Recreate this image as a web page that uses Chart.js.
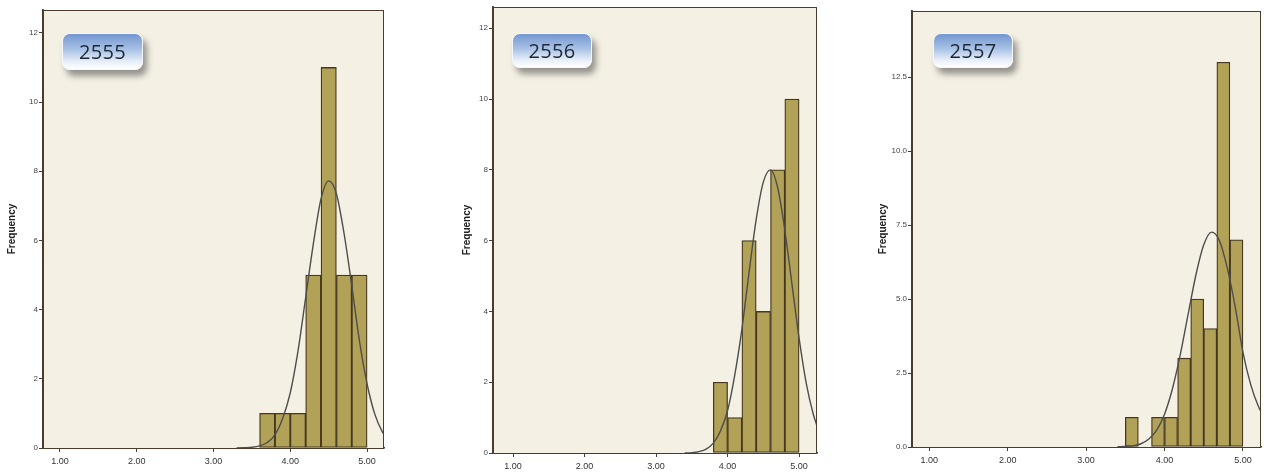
<!DOCTYPE html>
<html>
<head>
<meta charset="utf-8">
<script src="https://cdn.jsdelivr.net/npm/chart.js@4.4.1/dist/chart.umd.min.js"></script>
<style>
  html, body { margin:0; padding:0; background:#ffffff; }
  body { width:1264px; height:472px; position:relative; overflow:hidden; }
  canvas { position:absolute; top:0; }
  .tag {
    position:absolute; box-sizing:border-box;
    border:1px solid #f4f7fb; border-radius:8px;
    background:linear-gradient(to bottom, #7497d0 0%, #a9c2e6 45%, #e9f0f9 80%, #ffffff 100%);
    box-shadow:4px 6px 6px rgba(70,70,70,0.55);
    font-family:"Open Sans", "Noto Sans", sans-serif; font-size:20px; color:#1d2736;
    display:flex; align-items:center; justify-content:center; letter-spacing:0.3px;
  }
</style>
</head>
<body>
<canvas id="c2555" width="400" height="472" style="left:0px"></canvas>
<canvas id="c2556" width="400" height="472" style="left:440px"></canvas>
<canvas id="c2557" width="404" height="472" style="left:860px"></canvas>
<div class="tag" style="left:62px;top:33px;width:81px;height:37px;">2555</div>
<div class="tag" style="left:512px;top:33px;width:80px;height:35px;">2556</div>
<div class="tag" style="left:933px;top:33px;width:80px;height:35px;">2557</div>
<script>
// ---------- data ----------
const panelYears = ['2555', '2556', '2557'];

const xTickValues = [1, 2, 3, 4, 5];
const xTickLabels = ['1.00', '2.00', '3.00', '4.00', '5.00'];

const yTicks2555 = [0, 2, 4, 6, 8, 10, 12];
const yLabels2555 = ['0', '2', '4', '6', '8', '10', '12'];
const yTicks2556 = [0, 2, 4, 6, 8, 10, 12];
const yLabels2556 = ['0', '2', '4', '6', '8', '10', '12'];
const yTicks2557 = [0, 2.5, 5, 7.5, 10, 12.5];
const yLabels2557 = ['0.0', '2.5', '5.0', '7.5', '10.0', '12.5'];

// histogram bins (bin centres) and frequencies
const bins2555 = [3.7, 3.9, 4.1, 4.3, 4.5, 4.7, 4.9];
const freq2555 = [1, 1, 1, 5, 11, 5, 5];
const bins2556 = [3.9, 4.1, 4.3, 4.5, 4.7, 4.9];
const freq2556 = [2, 1, 6, 4, 8, 10];
const bins2557 = [3.583, 3.75, 3.917, 4.083, 4.25, 4.417, 4.583, 4.75, 4.917];
const freq2557 = [1, 0, 1, 1, 3, 5, 4, 13, 7];

// normal curve points
const curveX2555 = [3.3, 3.4, 3.5, 3.6, 3.7, 3.8, 3.9, 4.0, 4.1, 4.2, 4.3, 4.4, 4.5, 4.6, 4.7, 4.8, 4.9, 5.0, 5.1, 5.2, 5.22];
const curveY2555 = [0, 0.01, 0.02, 0.06, 0.16, 0.38, 0.85, 1.6, 2.8, 4.35, 5.9, 7.2, 7.72, 7.35, 6.2, 4.7, 3.1, 1.85, 0.98, 0.46, 0.4];
const curveX2556 = [3.4, 3.5, 3.6, 3.7, 3.8, 3.9, 4.0, 4.1, 4.2, 4.3, 4.4, 4.5, 4.6, 4.7, 4.8, 4.9, 5.0, 5.1, 5.2, 5.25];
const curveY2556 = [0, 0.01, 0.04, 0.11, 0.28, 0.62, 1.2, 2.2, 3.5, 5.1, 6.6, 7.66, 8.0, 7.5, 6.3, 4.77, 3.24, 1.97, 1.08, 0.77];
const curveX2557 = [3.4, 3.5, 3.6, 3.7, 3.8, 3.9, 4.0, 4.1, 4.2, 4.3, 4.4, 4.5, 4.6, 4.7, 4.8, 4.9, 5.0, 5.1, 5.2, 5.23];
const curveY2557 = [0.01, 0.02, 0.04, 0.11, 0.27, 0.57, 1.11, 1.96, 3.11, 4.47, 5.81, 6.83, 7.26, 6.97, 6.05, 4.75, 3.2, 2.1, 1.35, 1.2];

// ---------- styling / layout ----------
const plotBg = '#f4f0e3';
const frameColor = '#4a3d2e';
const barFill = '#b2a257';
const barEdge = '#463820';
const curveColor = '#4d4d4d';

const framePlugin = {
  id: 'frame',
  beforeDatasetsDraw(chart) {
    const { ctx, chartArea: a } = chart;
    ctx.save();
    ctx.fillStyle = plotBg;
    ctx.fillRect(a.left, a.top, a.right - a.left, a.bottom - a.top);
    ctx.restore();
  },
  afterDraw(chart) {
    const { ctx, chartArea: a } = chart;
    ctx.save();
    ctx.strokeStyle = frameColor;
    ctx.lineWidth = 1;
    ctx.strokeRect(a.left + 0.5, a.top + 0.5, a.right - a.left - 1, a.bottom - a.top);
    ctx.restore();
  }
};

function zip(xs, ys) { return xs.map((x, i) => ({ x: x, y: ys[i] })); }

function makeChart(id, bins, freq, cx, cy, yTicks, yLabels, range, box) {
  new Chart(document.getElementById(id), {
    data: {
      datasets: [
        {
          type: 'line', order: 0,
          data: zip(cx, cy),
          borderColor: curveColor, borderWidth: 1.4,
          pointRadius: 0, cubicInterpolationMode: 'monotone', fill: false
        },
        {
          type: 'bar', order: 1,
          data: zip(bins, freq),
          backgroundColor: barFill, borderColor: barEdge, borderWidth: 1.3,
          borderSkipped: false,
          barPercentage: 1.0, categoryPercentage: 1.0
        }
      ]
    },
    options: {
      responsive: false, animation: false, devicePixelRatio: 1,
      layout: { padding: { top: box.top, right: box.right, left: 0, bottom: 0 } },
      plugins: { legend: { display: false }, tooltip: { enabled: false } },
      scales: {
        x: {
          type: 'linear', min: range.xmin, max: range.xmax, offset: false,
          afterBuildTicks: s => { s.ticks = xTickValues.map(v => ({ value: v })); },
          afterFit: s => { s.height = box.xh; },
          ticks: {
            callback: (v, i) => xTickLabels[i],
            font: { family: 'Liberation Sans', size: 9 }, color: '#333',
            padding: 4, maxRotation: 0, autoSkip: false
          },
          grid: { offset: false, drawOnChartArea: false, drawTicks: true, tickLength: 4, color: frameColor, lineWidth: 1 },
          border: { display: true, color: frameColor, width: 1.6 }
        },
        y: {
          type: 'linear', min: 0, max: range.ymax, offset: false,
          afterBuildTicks: s => { s.ticks = yTicks.map(v => ({ value: v })); },
          afterFit: s => { s.width = box.yw; },
          ticks: {
            callback: (v, i) => yLabels[i],
            font: { family: 'Liberation Sans', size: 8 }, color: '#444',
            padding: 1, autoSkip: false
          },
          grid: { offset: false, drawOnChartArea: false, drawTicks: true, tickLength: 4, color: frameColor, lineWidth: 1 },
          border: { display: true, color: frameColor, width: 1.8 },
          title: {
            display: true, text: 'Frequency',
            font: { family: 'Liberation Sans', size: 10, weight: 'bold' }, color: '#222',
            padding: { top: box.tp, bottom: 0 }
          }
        }
      }
    },
    plugins: [framePlugin]
  });
}

makeChart('c2555', bins2555, freq2555, curveX2555, curveY2555, yTicks2555, yLabels2555,
  { xmin: 0.78, xmax: 5.22, ymax: 12.66 }, { top: 10, right: 16, yw: 43, xh: 24, tp: 6 });
makeChart('c2556', bins2556, freq2556, curveX2556, curveY2556, yTicks2556, yLabels2556,
  { xmin: 0.72, xmax: 5.25, ymax: 12.6 }, { top: 7, right: 23, yw: 53, xh: 19, tp: 21 });
makeChart('c2557', bins2557, freq2557, curveX2557, curveY2557, yTicks2557, yLabels2557,
  { xmin: 0.78, xmax: 5.23, ymax: 14.73 }, { top: 11, right: 3, yw: 52, xh: 25, tp: 17 });
</script>
</body>
</html>
